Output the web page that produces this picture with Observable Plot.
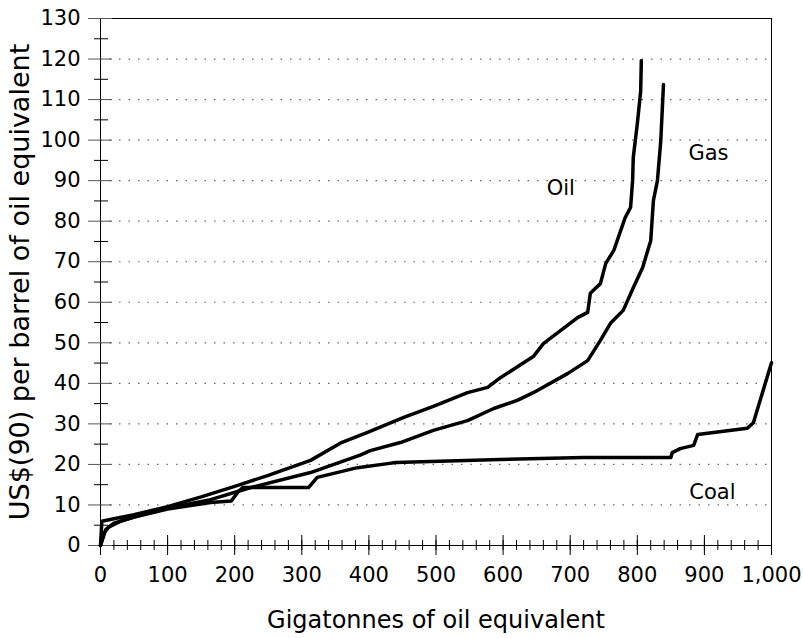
<!DOCTYPE html>
<html>
<head>
<meta charset="utf-8">
<script src="https://cdn.jsdelivr.net/npm/d3@7"></script>
<script src="https://cdn.jsdelivr.net/npm/@observablehq/plot@0.6"></script>
<style>
  body { margin: 0; background: #fff; }
  #chart svg { display: block; }
</style>
</head>
<body>
<div id="chart"></div>
<script>
// ---- Data ----
const oilX = [0, 2, 20, 50, 100, 150, 200, 250, 313, 358, 398, 452, 496, 547, 577, 596, 645, 660, 711, 726, 730, 745, 753, 765, 782, 790, 793, 794, 800, 805, 806];
const oilY = [0, 6, 6.6, 7.6, 9.6, 12, 14.6, 17.3, 21, 25.3, 27.9, 31.6, 34.3, 37.7, 39, 41.4, 46.6, 49.8, 56.2, 57.5, 62.2, 64.6, 69.6, 72.8, 80.9, 83.4, 90, 95.7, 104, 112, 119.6];

const gasX = [0, 5, 12, 30, 60, 100, 164, 224, 313, 387, 402, 447, 496, 547, 586, 621, 645, 696, 726, 745, 760, 779, 794, 808, 820, 824, 830, 835, 839];
const gasY = [0, 3, 4.5, 6, 7.5, 9.2, 11.3, 14.3, 18, 22.3, 23.4, 25.4, 28.4, 30.8, 33.8, 35.8, 37.7, 42.4, 45.6, 50.6, 54.8, 58, 63.6, 68.6, 75.2, 85.1, 90, 99.9, 113.7];

const coalX = [0, 8, 20, 50, 100, 164, 195, 205, 212, 310, 323, 383, 428, 440, 596, 720, 850, 852, 864, 884, 890, 964, 973, 1000];
const coalY = [0, 4, 5.5, 7, 9, 10.6, 11, 13.2, 14.3, 14.3, 16.8, 19.2, 20.2, 20.5, 21.2, 21.7, 21.7, 22.9, 23.9, 24.7, 27.4, 28.9, 30.3, 45.1];

const fuelNames = ["Oil", "Gas", "Coal"];
const labelX = [686, 906, 912];
const labelY = [88, 96.7, 13.1];

const xTicks = [0, 100, 200, 300, 400, 500, 600, 700, 800, 900, 1000];
const xMinorTicks = d3.range(0, 1001, 20);
const yTicks = [0, 10, 20, 30, 40, 50, 60, 70, 80, 90, 100, 110, 120, 130];
const yMinorTicks = [5, 15, 25, 35, 45, 55, 65, 75, 85, 95, 105, 115, 125];
const yGrid = [10, 20, 30, 40, 50, 60, 70, 80, 90, 100, 110, 120];

const xTitle = "Gigatonnes of oil equivalent";
const yTitle = "US$(90) per barrel of oil equivalent";

// ---- Build tables ----
const seriesX = [oilX, gasX, coalX];
const seriesY = [oilY, gasY, coalY];
const rows = fuelNames.flatMap((f, k) => seriesX[k].map((x, i) => ({fuel: f, x, y: seriesY[k][i]})));
const labels = fuelNames.map((f, k) => ({fuel: f, x: labelX[k], y: labelY[k]}));

const FS = 21;

const chart = Plot.plot({
  width: 803,
  height: 638,
  marginLeft: 100,
  marginRight: 32,
  marginTop: 18,
  marginBottom: 93,
  style: {fontFamily: "'DejaVu Sans', sans-serif", fontSize: FS + "px", background: "#fff", color: "#000"},
  x: {domain: [0, 1000]},
  y: {domain: [0, 130]},
  marks: [
    Plot.ruleY(yGrid, {stroke: "#666", strokeWidth: 1.2, strokeDasharray: "1.5,8"}),
    Plot.frame({stroke: "#000", strokeWidth: 1}),
    // y ticks (crossing the axis)
    Plot.axisY({ticks: yTicks, tickSize: 24, dx: 12, fill: "none", stroke: "#555", label: null}),
    Plot.axisY({ticks: yMinorTicks, tickSize: 14, dx: 8, fill: "none", stroke: "#000", label: null}),
    Plot.axisY({ticks: yTicks, tickSize: 0, tickPadding: 20, fontSize: FS, label: null}),
    // x ticks (crossing the axis)
    Plot.axisX({ticks: xTicks, tickSize: 20, dy: -10, fill: "none", stroke: "#000", label: null}),
    Plot.axisX({ticks: xMinorTicks, tickSize: 10, dy: -5, fill: "none", stroke: "#000", label: null}),
    Plot.axisX({ticks: xTicks.slice(0, -1), tickSize: 0, tickPadding: 22, fontSize: FS, tickFormat: d3.format(","), label: null}),
    Plot.axisX({ticks: xTicks.slice(-1), tickSize: 0, tickPadding: 22, fontSize: FS, tickFormat: d3.format(","), textAnchor: "end", dx: 30, label: null}),
    // curves
    Plot.line(rows, {x: "x", y: "y", z: "fuel", stroke: "#000", strokeWidth: 3.5, strokeLinejoin: "round"}),
    // series labels
    Plot.text(labels, {x: "x", y: "y", text: "fuel", fontSize: FS, fill: "#000"}),
    // axis titles
    Plot.text([yTitle], {frameAnchor: "left", dx: -80, rotate: -90, textAnchor: "middle", lineAnchor: "middle", fontSize: 27, fill: "#000"}),
    Plot.text([xTitle], {frameAnchor: "bottom", dy: 75, textAnchor: "middle", lineAnchor: "middle", fontSize: 24, fill: "#000"})
  ]
});
document.getElementById("chart").append(chart);
</script>
</body>
</html>
